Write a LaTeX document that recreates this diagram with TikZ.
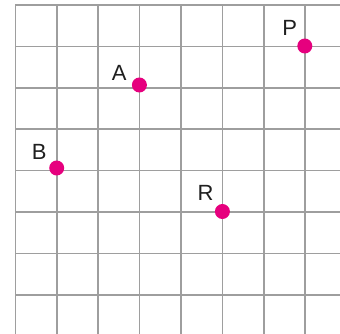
\documentclass[tikz,border=0pt]{standalone}
\usepackage{fontspec}
\setmainfont{Liberation Sans}
\definecolor{gridgray}{RGB}{158,158,158}
\definecolor{dotpink}{RGB}{230,0,126}
\begin{document}
\begin{tikzpicture}[x=1pt,y=-1pt,
  gridline/.style={draw=gridgray,line width=1.6pt},
  dotmark/.style={circle,fill=dotpink,draw=none,inner sep=0pt,minimum size=15pt},
  lbl/.style={font=\fontsize{22}{22}\selectfont,text=black!88,inner sep=0pt,anchor=center}]
\useasboundingbox (0,0) rectangle (340,334);
\fill[white] (0,0) rectangle (340,334);
\foreach \i in {0,...,7} {
  \draw[gridline] (15.3+41.4*\i,5) -- (15.3+41.4*\i,334);
}
\foreach \j in {0,...,7} {
  \draw[gridline] (15.3,5+41.4*\j) -- (340,5+41.4*\j);
}
\node[dotmark] (A) at (139.4,85) {};
\node[dotmark] (P) at (304.8,46) {};
\node[dotmark] (B) at (56.7,168) {};
\node[dotmark] (R) at (222.4,211.5) {};
\node[lbl] (Alab) at (119.2,73) {A};
\node[lbl] (Plab) at (289.7,27.7) {P};
\node[lbl] (Blab) at (39.2,152) {B};
\node[lbl] (Rlab) at (205.5,193) {R};
\end{tikzpicture}
\end{document}
